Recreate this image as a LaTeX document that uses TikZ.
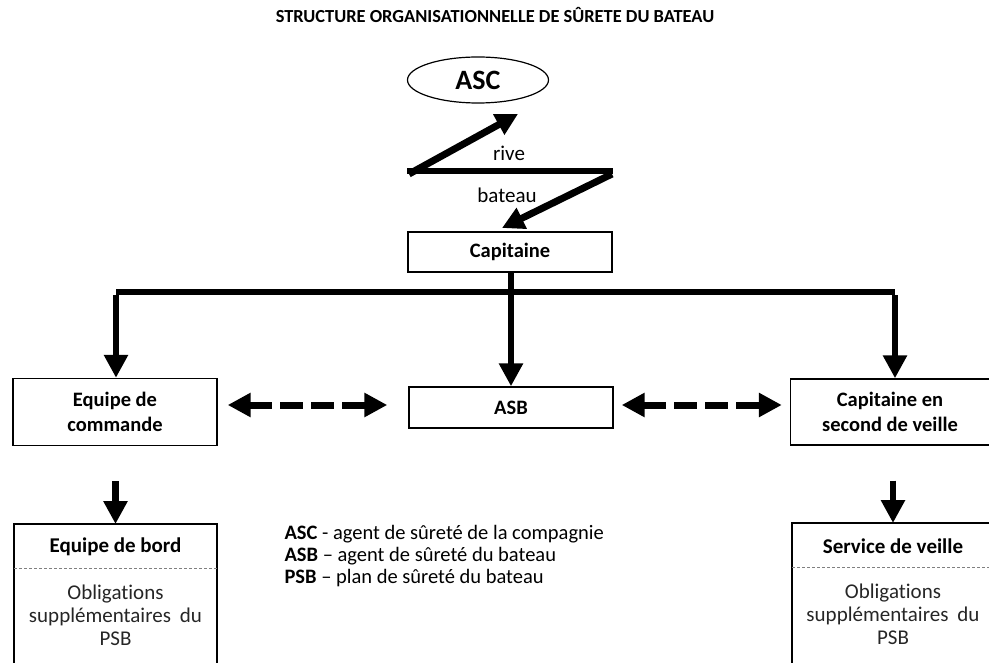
\documentclass[tikz,border=0pt]{standalone}
\usepackage{fontspec}
\setmainfont{Carlito}[Ligatures=NoCommon]
\usetikzlibrary{arrows.meta,shapes.geometric}
\begin{document}
\begin{tikzpicture}[x=1pt,y=-1pt,
  box/.style={draw,line width=1.4pt,minimum width=204pt,align=center,inner sep=0pt},
  boxtxt/.style={font=\fontsize{20.5}{25}\selectfont\bfseries},
  thickarrow/.style={line width=6.5pt,-{Triangle[length=23pt,width=23pt]}},
  zzarrow/.style={line width=7pt,-{Triangle[length=22pt,width=22pt]}},
  dasharrow/.style={line width=7pt,{Triangle[length=23pt,width=23pt]}-{Triangle[length=23pt,width=23pt]},dash pattern=on 23pt off 8pt},
  lbl/.style={font=\fontsize{21}{23}\selectfont},
  sep/.style={gray,line width=0.8pt,dash pattern=on 3pt off 2pt},
]
\useasboundingbox (0,0) rectangle (989,663);
\clip (0,0) rectangle (989,663);
% title
\node[font=\fontsize{18.4}{20}\selectfont\bfseries] (title) at (495,15) {STRUCTURE ORGANISATIONNELLE DE SÛRETE DU BATEAU};
% ASC ellipse
\node[draw,ellipse,line width=1.2pt,minimum width=141pt,minimum height=46pt,inner sep=0pt,font=\fontsize{28}{30}\selectfont\bfseries] (asc) at (478,80) {ASC};
% Capitaine
\node[box,boxtxt,minimum height=40pt] (cap) at (510,252) {Capitaine};
% zigzag
\coordinate (za) at (518,114);
\coordinate (zl) at (407,171);
\coordinate (zr) at (613,171);
\coordinate (zb) at (502,228);
\draw[line width=6.5pt] (zl) -- (zr);
\draw[zzarrow] ([xshift=2pt,yshift=-3pt]zl) -- (za);
\draw[zzarrow] ([xshift=-1pt,yshift=-3pt]zr) -- (zb);
\node[lbl] (rive) at (509,153) {rive};
\node[lbl] (bateau) at (507,195) {bateau};
% middle row
\node[box,boxtxt,minimum height=67pt] (eqc) at (115,412) {Equipe de\\commande};
\node[box,boxtxt,minimum height=41pt] (asb) at (511,407.5) {ASB};
\node[box,boxtxt,minimum height=66pt,minimum width=199pt] (csv) at (890,412) {Capitaine en\\second de veille};
% tree
\coordinate (busl) at (116,292);
\coordinate (busr) at (895,292);
\draw[line width=6.5pt,line join=miter] (busl) -- (busr);
\draw[thickarrow] ([yshift=-3.25pt]busl) -- (eqc.north -| busl);
\draw[thickarrow] ([yshift=-3.25pt]busr) -- (csv.north -| busr);
\draw[thickarrow] (cap.south -| 511,0) -- (asb.north -| 511,0);
% dashed arrows
\draw[dasharrow] ([xshift=10pt]eqc.east |- 0,405) -- ([xshift=-21pt]asb.west |- 0,405);
\draw[dasharrow] ([xshift=8pt]asb.east |- 0,405) -- ([xshift=-8pt]csv.west |- 0,405);
% bottom boxes
\draw[line width=1.4pt] (14,700) -- (14,524) -- (217,524) -- (217,700);
\draw[line width=1.4pt] (792,700) -- (792,523) -- (995,523) -- (995,700);
\draw[sep] (14,568) -- (217,568);
\draw[sep] (792,567) -- (995,567);
\coordinate (bl) at (115.5,524);
\coordinate (br) at (893,523);
\node[font=\fontsize{21}{25}\selectfont\bfseries] (eqb) at (115.5,547) {Equipe de bord};
\node[align=center,font=\fontsize{21}{23}\selectfont,text=black!85] (oblL) at (115.5,615) {Obligations\\supplémentaires\hspace{0.2em} du\\PSB};
\node[font=\fontsize{21}{25}\selectfont\bfseries] (sv) at (893,546) {Service de veille};
\node[align=center,font=\fontsize{21}{23}\selectfont,text=black!85] (oblR) at (893,614) {Obligations\\supplémentaires\hspace{0.2em} du\\PSB};
\draw[thickarrow] (eqc.south -| bl) ++(0,35) -- (bl);
\draw[thickarrow] (csv.south -| br) ++(0,35) -- (br);
% legend
\node[anchor=west,align=left,font=\fontsize{20.5}{21.8}\selectfont] (leg) at (281,556) {\textbf{ASC} - agent de sûreté de la compagnie\\\textbf{ASB} -- agent de sûreté du bateau\\\textbf{PSB} -- plan de sûreté du bateau};
\end{tikzpicture}
\end{document}
